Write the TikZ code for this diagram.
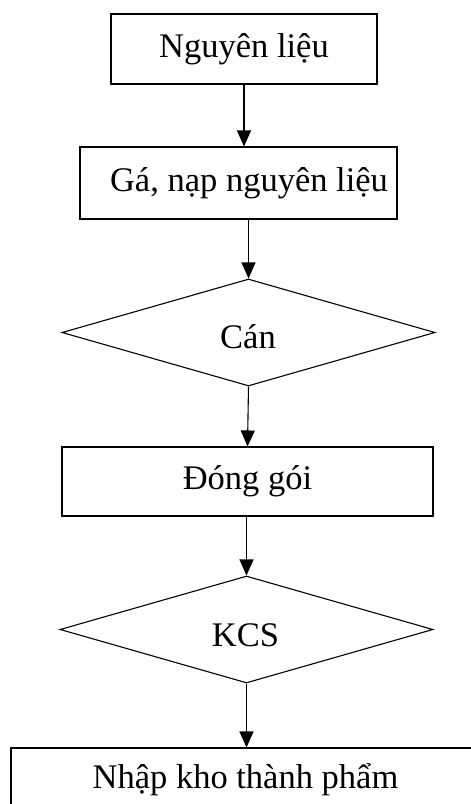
\documentclass[tikz,border=0pt]{standalone}
\usepackage{fontspec}
\setmainfont{Liberation Serif}
\usetikzlibrary{shapes.geometric,arrows.meta}
\begin{document}
\begin{tikzpicture}[x=1pt,y=-1pt,
  every node/.style={font=\fontsize{34.5}{40}\selectfont, inner sep=0pt},
  stepbox/.style={draw, line width=1.1pt, rectangle},
  decision/.style={draw, line width=1.1pt, diamond},
  flow/.style={line width=1.1pt, -{Triangle[length=16pt,width=14pt]}}]
\useasboundingbox (0,0) rectangle (471,804);
\clip (0,0) rectangle (471,804);
% process boxes and decision diamonds
\node[stepbox, minimum width=266pt, minimum height=70pt] (n1) at (244,49) {Nguyên liệu};
\node[stepbox, minimum width=317pt, minimum height=72pt] (n2) at (238.5,183) {};
\node (n2text) at (249,183) {Gá, nạp nguyên liệu};
\node[decision, minimum width=373pt, minimum height=107pt] (d1) at (248.5,332.5) {};
\node (d1text) at (248,337) {Cán};
\node[stepbox, minimum width=371pt, minimum height=69pt] (n3) at (247.5,481.5) {Đóng gói};
\node[decision, minimum width=373pt, minimum height=107pt] (d2) at (246.5,629.5) {};
\node (d2text) at (245.5,635) {KCS};
\node[stepbox, minimum width=469pt, minimum height=64pt] (n4) at (245.5,780) {Nhập kho thành phẩm};
% connectors
\draw[flow] (n1.south) -- (n1.south |- n2.north);
\draw[flow] (d1.north |- n2.south) -- (d1.north);
\draw[flow] (d1.south) -- (n3.north);
\draw[flow] (d2.north |- n3.south) -- (d2.north);
\draw[flow] (d2.south) -- (d2.south |- n4.north);
\end{tikzpicture}
\end{document}
